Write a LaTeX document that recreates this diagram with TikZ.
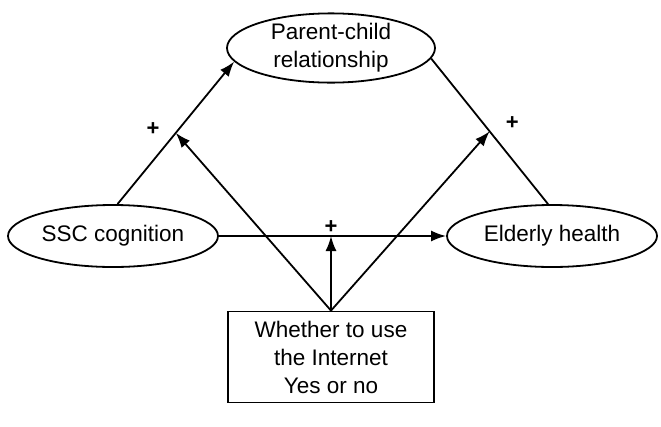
\documentclass[tikz,border=0pt]{standalone}
\usepackage{fontspec}
\setmainfont{Liberation Sans}
\usetikzlibrary{positioning}
\usetikzlibrary{shapes.geometric}
\usetikzlibrary{arrows.meta}

\begin{document}
\begin{tikzpicture}[x=1pt, y=-1pt, line width=1.8pt, >={Latex[length=15pt,width=11pt]},
        var/.style={draw=black, ellipse, minimum width=208, minimum height=62, inner sep=0, align=center, font=\fontsize{22.5}{28}\selectfont},
        sign/.style={font=\fontsize{22}{22}\selectfont\bfseries}]
        \useasboundingbox (0, 0) rectangle (661, 426);
        \node(pcr) [var] at (331, 48) {Parent-child\\relationship};
        \node(ssc) [var, minimum width=210] at (113, 236) {SSC cognition};
        \node(eh) [var, minimum width=210] at (552, 236) {Elderly health};
        \node(use) [draw=black, minimum width=206, minimum height=91, inner sep=0, align=center, font=\fontsize{22.5}{28}\selectfont] at (331, 357) {Whether to use\\the Internet\\Yes or no};
        \draw[->] (ssc.82) -- (pcr.188) coordinate[pos=0.5] (m1);
        \draw (pcr.-6) -- (eh.97) coordinate[pos=0.5] (m3);
        \draw[->] (ssc) -- (eh) coordinate[pos=0.5] (m2);
        \draw[->] (use.north) -- (m1);
        \draw[->] (use.north) -- (use.north |- m2);
        \draw[->] (use.north) -- (m3);
        \node(s1) [sign, left=12 of m1, yshift=4] {+};
        \node(s2) [sign, above=2 of use.north |- m2] {+};
        \node(s3) [sign, right=12 of m3, yshift=8] {+};
    \end{tikzpicture}
\end{document}
